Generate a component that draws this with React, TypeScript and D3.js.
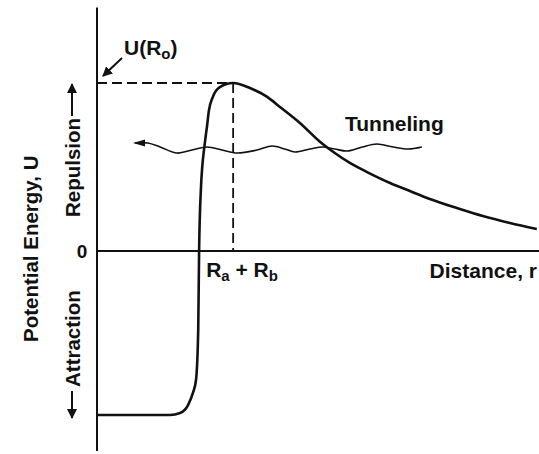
import * as d3 from "d3"

const W = 539
const H = 454

// r in % of the distance axis, U in % of the barrier height U(Ro)
const curveR = [0, 12, 16.5, 18.8, 20.6, 21.7, 22.4, 22.9, 23.1, 23.5, 24.4, 24.9, 25.3, 26.2, 27.8, 30.8, 34.6, 38.5, 41.4, 45.9, 50.5, 53.8, 57.2, 61.1, 66.3, 70.8, 75.3, 81.4, 87.3, 93.4, 99.5]
const curveU = [-97.6, -97.6, -97.6, -96.4, -91.7, -84.5, -76.8, -47, 0, 36.3, 64.3, 74.4, 83.3, 91.7, 97.6, 100, 97, 91.7, 85.7, 76.2, 64.9, 58.3, 52.4, 47, 40.5, 35.7, 31, 25.6, 20.8, 16.7, 13.1]

// tunneling wave
const waveR = [8.6, 11.5, 14.3, 18.1, 21.5, 24.9, 28.3, 31.7, 36.2, 39.6, 42.5, 44.8, 48.2, 51.1, 53.8, 56.6, 60, 63.3, 67, 70.4, 73.5]
const waveU = [64.3, 64.3, 61.9, 58.3, 60.1, 61.9, 60.1, 58.3, 60.1, 62.5, 60.7, 58.9, 60.7, 61.9, 60.7, 59.5, 61.9, 63.7, 61.9, 60.7, 61.9]

const barrierR = 30.8 // Ra + Rb
const barrierU = 100 // U(Ro)
const axisR = [0, 100]
const axisU = [-119, 145]

const font = "'Liberation Sans', Arial, Helvetica, sans-serif"

export default function App() {
  const x = d3.scaleLinear().domain([0, 100]).range([97, 539])
  const y = d3.scaleLinear().domain([-100, 100]).range([419, 83])

  const curve = d3
    .line<number>()
    .x((d, i) => x(curveR[i]))
    .y((d) => y(d))
    .curve(d3.curveMonotoneX)

  const wave = d3
    .line<number>()
    .x((d, i) => x(waveR[i]))
    .y((d) => y(d))
    .curve(d3.curveCatmullRom)

  const txt = { fontFamily: font, fontWeight: 700, fill: "#111" } as const
  const wx = x(waveR[0])
  const wy = y(waveU[0])

  return (
    <svg
      width={W}
      height={H}
      style={{ position: "absolute", left: 0, top: 0, background: "#fff" }}
    >
      <defs>
        <marker id="ah" viewBox="0 0 10 10" refX="9" refY="5" markerWidth="5" markerHeight="5" orient="auto">
          <path d="M0,0 L10,5 L0,10 z" fill="#111" />
        </marker>
      </defs>

      {/* axes */}
      <line x1={x(0)} x2={x(0)} y1={y(axisU[1])} y2={y(axisU[0])} stroke="#111" strokeWidth={2} />
      <line x1={x(axisR[0])} x2={x(axisR[1])} y1={y(0)} y2={y(0)} stroke="#111" strokeWidth={2} />

      {/* dashed guides */}
      <line x1={x(0)} x2={x(barrierR)} y1={y(barrierU)} y2={y(barrierU)} stroke="#111" strokeWidth={1.8} strokeDasharray="10,5" />
      <line x1={x(barrierR)} x2={x(barrierR)} y1={y(barrierU)} y2={y(0)} stroke="#111" strokeWidth={1.8} strokeDasharray="10,5" />

      {/* potential curve */}
      <path d={curve(curveU) || ""} fill="none" stroke="#111" strokeWidth={2.6} />

      {/* tunneling wave */}
      <path d={wave(waveU) || ""} fill="none" stroke="#111" strokeWidth={1.6} />
      <path d={`M${wx + 10},${wy - 3.5} L${wx - 2},${wy} L${wx + 10},${wy + 3.5} z`} fill="#111" />

      {/* U(Ro) pointer */}
      <line x1={122} y1={58} x2={103} y2={76} stroke="#111" strokeWidth={2} markerEnd="url(#ah)" />
      <text x={124} y={55} fontSize={21} {...txt}>
        U(R<tspan fontSize={15} dy={4}>o</tspan>
        <tspan dy={-4}>)</tspan>
      </text>

      <text x={345} y={131} fontSize={21} {...txt}>
        Tunneling
      </text>
      <text x={537} y={278} fontSize={21} textAnchor="end" {...txt}>
        Distance, r
      </text>
      <text x={x(barrierR) - 27} y={277} fontSize={21} {...txt}>
        R<tspan fontSize={15} dy={4}>a</tspan>
        <tspan dy={-4}> + R</tspan>
        <tspan fontSize={15} dy={4}>b</tspan>
      </text>
      <text x={82} y={y(0) + 6.5} fontSize={19} textAnchor="middle" {...txt}>
        0
      </text>

      {/* y-axis labels */}
      <text transform="translate(38,342) rotate(-90)" fontSize={20.5} {...txt}>
        Potential Energy, U
      </text>
      <text transform="translate(80,217) rotate(-90)" fontSize={20.5} {...txt}>
        Repulsion
      </text>
      <line x1={72} x2={72} y1={116} y2={84} stroke="#111" strokeWidth={2} markerEnd="url(#ah)" />
      <text transform="translate(80,387) rotate(-90)" fontSize={20.5} {...txt}>
        Attraction
      </text>
      <line x1={72} x2={72} y1={391} y2={418} stroke="#111" strokeWidth={2} markerEnd="url(#ah)" />
    </svg>
  )
}
